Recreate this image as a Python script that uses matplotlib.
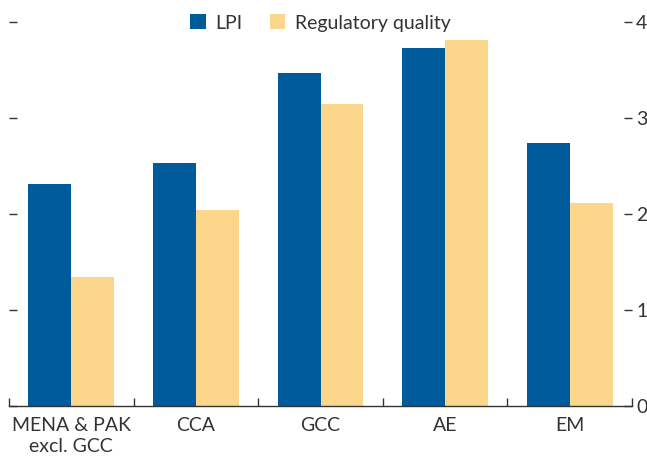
import matplotlib
matplotlib.use("Agg")
import matplotlib.pyplot as plt
import numpy as np

categories = ["MENA & PAK\nexcl. GCC", "CCA", "GCC", "AE", "EM"]
lpi = [2.31, 2.53, 3.47, 3.73, 2.74]
reg_quality = [1.34, 2.04, 3.15, 3.81, 2.11]
yticks = [0, 1, 2, 3, 4]

plt.rcParams['font.family'] = ['Lato', 'DejaVu Sans']
W, H = 647, 461
fig = plt.figure(figsize=(W/100, H/100), dpi=100)
left, right, bottom = 9, 632, 406
ymax = 4.2
ppu = 96.0
top = bottom - ymax*ppu
ax = fig.add_axes([left/W, 1-bottom/H, (right-left)/W, (bottom-top)/H])

x = np.arange(len(categories))
w = 0.345
blue = "#005B9C"
yellow = "#FCD68A"
ax.bar(x - w/2, lpi, w, color=blue, label="LPI")
ax.bar(x + w/2, reg_quality, w, color=yellow, label="Regulatory quality")

ax.set_xlim(-0.5, len(categories)-0.5)
ax.set_ylim(0, ymax)
for s in ["top", "left", "right"]:
    ax.spines[s].set_visible(False)
ax.spines["bottom"].set_color("#333333")
ax.spines["bottom"].set_linewidth(1.0)

ax.set_xticks(x)
ax.set_xticklabels(categories, fontsize=14, color="#333333", linespacing=1.3)
ax.tick_params(axis="x", which="major", length=0, pad=8)
ax.set_xticks(np.arange(-0.5, len(categories), 1.0), minor=True)
ax.tick_params(axis="x", which="minor", direction="in", length=6, width=1.0, color="#333333")

ax.set_yticks(yticks)
ax.yaxis.set_ticks_position("both")
ax.tick_params(axis="y", direction="in", length=6, width=1.0, color="#333333",
               labelleft=False, labelright=True, labelsize=14, labelcolor="#333333", pad=3)
ax.set_yticklabels([str(v) for v in yticks])

leg = ax.legend(loc="upper center", bbox_to_anchor=(0.5, 1.0), ncol=2, frameon=False,
                fontsize=14, handlelength=0.8, handleheight=0.8, columnspacing=1.4,
                handletextpad=0.5, borderaxespad=0.2)
for t in leg.get_texts():
    t.set_color("#333333")

fig.savefig("out.png", dpi=100)
